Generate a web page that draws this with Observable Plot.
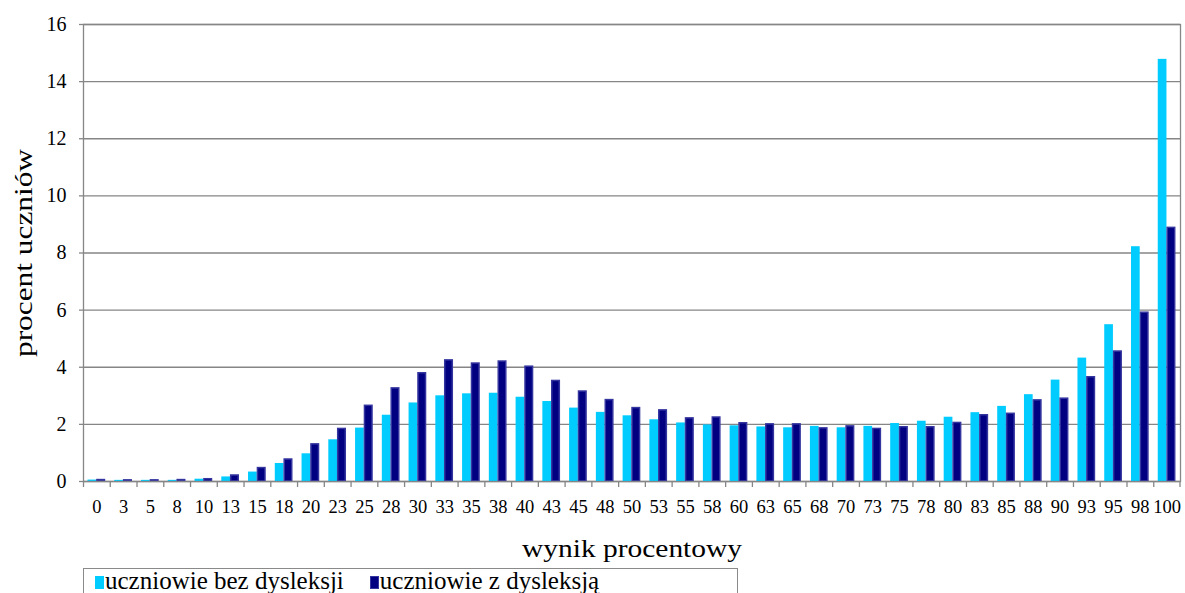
<!DOCTYPE html>
<html>
<head>
<meta charset="utf-8">
<script src="https://cdn.jsdelivr.net/npm/d3@7"></script>
<script src="https://cdn.jsdelivr.net/npm/@observablehq/plot@0.6"></script>
<style>
  html, body { margin: 0; padding: 0; background: #fff; }
  body { font-family: "Liberation Serif", "Times New Roman", serif; width: 1185px; height: 593px; overflow: hidden; }
  #chart svg { display: block; }
  #legend {
    margin-left: 83px; margin-top: 2px; width: 655px; height: 32px;
    border: 1px solid #8a8a8a; box-sizing: border-box;
    font-size: 25px; line-height: 23px; white-space: nowrap; color: #000;
  }
  #legend .sw { display: inline-block; width: 9px; height: 13px; vertical-align: 0px; box-sizing: border-box; }
  #legend .item { display: inline-block; }
</style>
</head>
<body>
<div id="chart"></div>
<div id="legend"></div>
<script>
// ---- data ----
const categories = [0,3,5,8,10,13,15,18,20,23,25,28,30,33,35,38,40,43,45,48,50,53,55,58,60,63,65,68,70,73,75,78,80,83,85,88,90,93,95,98,100];
const bezDysleksji = [0.05,0.04,0.04,0.04,0.08,0.16,0.33,0.63,0.97,1.46,1.87,2.32,2.75,3.0,3.07,3.09,2.95,2.8,2.57,2.42,2.3,2.16,2.05,1.98,1.95,1.91,1.88,1.93,1.88,1.93,2.03,2.11,2.25,2.41,2.63,3.04,3.55,4.32,5.49,8.22,14.78];
const zDysleksja = [0.05,0.04,0.04,0.05,0.08,0.21,0.47,0.77,1.3,1.84,2.65,3.26,3.79,4.24,4.13,4.2,4.02,3.52,3.15,2.85,2.57,2.49,2.21,2.24,2.04,2.0,2.0,1.86,1.93,1.84,1.9,1.9,2.05,2.32,2.37,2.84,2.9,3.65,4.55,5.91,8.88];
const seriesNames = ["uczniowie bez dysleksji", "uczniowie z dysleksją"];
const yTicks = [0,2,4,6,8,10,12,14,16];
const xLabel = "wynik procentowy";
const yLabel = "procent uczniów";

const rows = categories.map((c, i) => ({cat: String(c), bez: bezDysleksji[i], z: zDysleksja[i]}));

const W = 1185, H = 566;
const mL = 83, mR = 5, mT = 24, mB = H - 481;
const bw = (W - mL - mR) / categories.length;
const grid = "#868686";
const cyan = "#00CCFF", navy = "#000080", navyEdge = "#3535a0";
const serif = '"Liberation Serif", "Times New Roman", serif';

const plot = Plot.plot({
  width: W, height: H,
  marginLeft: mL, marginRight: mR, marginTop: mT, marginBottom: mB,
  style: {fontFamily: serif, background: "#fff", color: "#000"},
  x: {type: "band", domain: categories.map(String), padding: 0},
  y: {domain: [0, 16]},
  marks: [
    Plot.ruleY(yTicks, {stroke: grid, strokeWidth: 1.3}),
    Plot.barY(rows, {x: "cat", y: "bez", fill: cyan, insetLeft: 4.5, insetRight: bw - 13.2}),
    Plot.barY(rows, {x: "cat", y: "z", fill: navy, stroke: navyEdge, strokeWidth: 1.5, insetLeft: 13.9, insetRight: 5.3}),
    Plot.frame({stroke: grid, strokeWidth: 1.3}),
    Plot.ruleX(rows, {x: "cat", dx: -bw / 2, stroke: grid, strokeWidth: 1.3, insetTop: 481 - mT, insetBottom: -6}),
    Plot.ruleX(rows.slice(-1), {x: "cat", dx: bw / 2 - 0.5, stroke: grid, strokeWidth: 1.3, insetTop: 481 - mT, insetBottom: -6}),
    Plot.axisX({tickSize: 0, tickPadding: 18, fontSize: 18.5, fontFamily: serif, label: xLabel, labelAnchor: "center", labelOffset: 75, labelArrow: "none"}),
    Plot.axisY({ticks: yTicks, tickSize: 4, tickPadding: 13, fontSize: 20, fontFamily: serif, stroke: grid, label: yLabel, labelAnchor: "center", labelOffset: 70, labelArrow: "none"})
  ]
});

// fonts (labels stretched slightly like the original)
function setFont(sel, size) {
  plot.querySelectorAll(sel).forEach(g => {
    g.setAttribute("font-size", size);
    g.setAttribute("font-family", serif);
    g.querySelectorAll("text").forEach(t => { t.setAttribute("font-size", size); });
  });
}
setFont('[aria-label="x-axis tick label"]', 18.5);
setFont('[aria-label="y-axis tick label"]', 20);
setFont('[aria-label="x-axis label"]', 26);
setFont('[aria-label="y-axis label"]', 26);
plot.querySelectorAll('[aria-label="x-axis label"] text').forEach(t => {
  t.setAttribute("textLength", 220);
  t.setAttribute("lengthAdjust", "spacingAndGlyphs");
});
plot.querySelectorAll('[aria-label="y-axis label"] text').forEach(t => {
  t.setAttribute("textLength", 208);
  t.setAttribute("lengthAdjust", "spacingAndGlyphs");
});
plot.querySelectorAll('[aria-label="y-axis tick"] path').forEach(p => p.setAttribute("stroke-width", 1.3));

document.getElementById("chart").appendChild(plot);

// legend
const legend = d3.select("#legend").style("padding-left", "11px");
const swatches = [
  {name: seriesNames[0], fill: cyan, stroke: "none"},
  {name: seriesNames[1], fill: navy, stroke: navyEdge}
];
swatches.forEach((s, i) => {
  const item = legend.append("span").attr("class", "item").style("margin-right", i === 0 ? "26px" : "0");
  item.append("span").attr("class", "sw")
    .style("background", s.fill)
    .style("border", s.stroke === "none" ? "none" : `1px solid ${s.stroke}`);
  item.append("span").style("margin-left", "1px").text(s.name);
});
</script>
</body>
</html>
